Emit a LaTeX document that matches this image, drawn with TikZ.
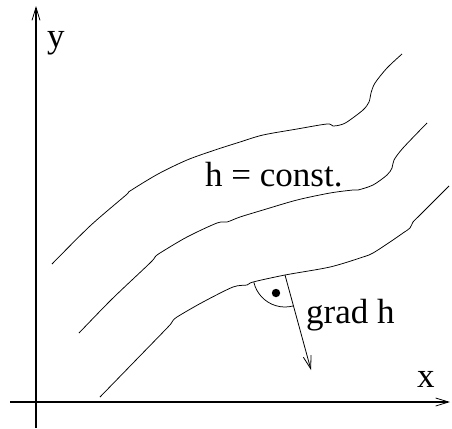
\documentclass[tikz,border=0pt]{standalone}
\usepackage{fontspec}
\setmainfont{Liberation Serif}
\usetikzlibrary{arrows.meta}
\begin{document}
\begin{tikzpicture}[x=1bp,y=-1bp,
  axis/.style={line width=1.1bp,-{Straight Barb[length=13bp,width=8bp,line width=0.8bp]}},
  contour/.style={line width=0.75bp,line join=round},
  gradarrow/.style={line width=0.8bp,-{Straight Barb[length=13bp,width=8bp,line width=0.8bp]}},
  lbl/.style={inner sep=0pt,anchor=base west,font=\fontsize{35bp}{40bp}\selectfont}]
\useasboundingbox (0,0) rectangle (452,428);
% axes
\coordinate (ybot) at (36,428);
\coordinate (ytop) at (36,6);
\coordinate (xleft) at (10,402);
\coordinate (xright) at (450,402);
\draw[axis] (ybot) -- (ytop);
\draw[axis] (xleft) -- (xright);
\node[lbl] (ylab) at (47,47) {y};
\node[lbl] (xlab) at (417,387) {x};
% contour lines
\draw[contour] plot[smooth,tension=0.5] coordinates {
  (52,264) (90,226) (126,195) (130,191) (158,174) (187,160) (215,150) (240,142)
  (263,135) (297,129) (327,124) (333,126) (340,125) (347,122) (363,110)
  (369,102) (371,93) (375,83) (387,68) (402,54)};
\draw[contour] plot[smooth,tension=0.5] coordinates {
  (79,333) (112,299) (150,263) (155,257) (160,253) (187,237) (217,223)
  (227,222) (240,217) (263,210) (297,200) (330,193) (353,190) (358,190)
  (373,185) (387,175) (392,168) (394,160) (403,148) (427,123)};
\draw[contour] plot[smooth,tension=0.5] coordinates {
  (100,397) (135,361) (168,327) (172,322) (177,317) (203,302) (233,287)
  (247,285) (253,282) (285,275) (330,267) (363,257) (373,253) (390,242)
  (403,233) (410,228) (413,222) (420,215) (449,186)};
\node[lbl] (hlab) at (205,186) {h = const.};
% gradient
\coordinate (P) at (285,275);
\coordinate (G) at (311,370);
\draw[gradarrow] (P) -- (G);
\draw[line width=0.75bp] ([shift={(167:32)}]P) arc[start angle=167,end angle=75,radius=32];
\fill (276,293) circle[radius=4.2];
\node[lbl] (glab) at (306,323) {grad h};
\end{tikzpicture}
\end{document}
